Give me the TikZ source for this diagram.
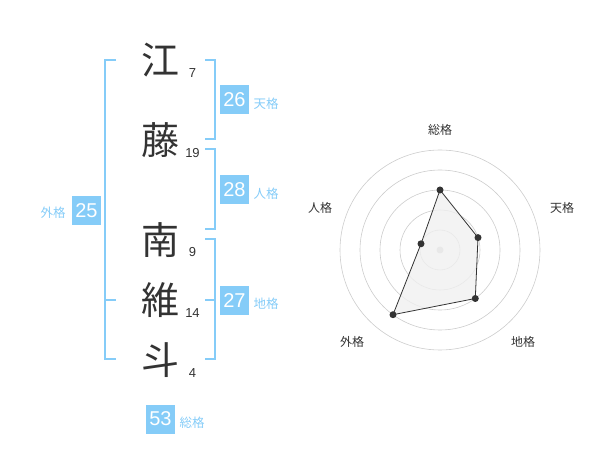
\documentclass[tikz,border=0pt]{standalone}
\usepackage{fontspec}
\setmainfont{Liberation Sans}
\newfontfamily\jp{Noto Sans CJK JP}
\definecolor{kakublue}{HTML}{85CCF8}
\definecolor{ink}{HTML}{333333}
\definecolor{ringgray}{HTML}{CCCCCC}
\definecolor{areagray}{HTML}{F0F0F0}
\tikzset{
    every node/.style={align=center,inner sep=0pt,},
    kanji/.style={font=\jp\fontsize{38}{38}\selectfont,text=ink,},
    strokes/.style={font=\fontsize{13}{13}\selectfont,text=ink,},
    kakubox/.style={fill=kakublue,minimum size=29pt,text=white,font=\fontsize{20}{20}\selectfont,},
    kakuname/.style={font=\jp\fontsize{12.5}{12.5}\selectfont,text=kakublue,},
    bracket/.style={draw=kakublue,line width=1.8pt,},
    ring/.style={draw=ringgray,line width=0.6pt,},
    axis/.style={font=\jp\fontsize{12}{12}\selectfont,text=ink,},
    score/.style={circle,fill=ink,minimum size=7pt,},
}

\begin{document}
\begin{tikzpicture}[x=1pt,y=-1pt]
                \useasboundingbox (0, 0) rectangle (600, 470);

                \node[kanji] (sei1) at (160, 60) {江};
                \node[kanji] (sei2) at (160, 140) {藤};
                \node[kanji] (mei1) at (160, 240) {南};
                \node[kanji] (mei2) at (160, 300) {維};
                \node[kanji] (mei3) at (160, 360) {斗};

                \node[strokes] (sei1_n) at (192.5, 73) {7};
                \node[strokes] (sei2_n) at (192.5, 153) {19};
                \node[strokes] (mei1_n) at (192.5, 252) {9};
                \node[strokes] (mei2_n) at (192.5, 313) {14};
                \node[strokes] (mei3_n) at (192.5, 373) {4};

                \draw[bracket] (116, 60) -- (105, 60) -- (105, 359) -- (116, 359);
                \draw[bracket] (105, 300) -- (116, 300);
                \draw[bracket] (205, 60) -- (215, 60) -- (215, 139) -- (205, 139);
                \draw[bracket] (205, 149) -- (215, 149) -- (215, 229) -- (205, 229);
                \draw[bracket] (205, 239) -- (215, 239) -- (215, 359) -- (205, 359);
                \draw[bracket] (205, 300) -- (215, 300);

                \node[kakubox] (tenkaku) at (234.5, 100) {26};
                \node[kakubox] (jinkaku) at (234.5, 190) {28};
                \node[kakubox] (chikaku) at (234.5, 300.5) {27};
                \node[kakubox] (gaikaku) at (86.5, 210.5) {25};
                \node[kakubox] (soukaku) at (160.5, 419) {53};

                \node[kakuname] (tenkaku_name) at (266, 104) {天格};
                \node[kakuname] (jinkaku_name) at (266, 194) {人格};
                \node[kakuname] (chikaku_name) at (266, 304) {地格};
                \node[kakuname] (gaikaku_name) at (53, 213) {外格};
                \node[kakuname] (soukaku_name) at (192, 423) {総格};

                \coordinate (chart) at (440, 250);
                \draw[ring] (chart) circle (20);
                \draw[ring] (chart) circle (40);
                \draw[ring] (chart) circle (60);
                \draw[ring] (chart) circle (80);
                \draw[ring] (chart) circle (100);
                \fill[ringgray] (chart) circle (3.5);

                \node[axis] (soukaku_axis) at (440, 130) {総格};
                \node[axis] (tenkaku_axis) at (562, 208) {天格};
                \node[axis] (chikaku_axis) at (523, 342) {地格};
                \node[axis] (gaikaku_axis) at (352, 342) {外格};
                \node[axis] (jinkaku_axis) at (320, 208) {人格};

                \coordinate (soukaku_pt) at (440, 190);
                \coordinate (tenkaku_pt) at (478, 237.6);
                \coordinate (chikaku_pt) at (475.3, 298.5);
                \coordinate (gaikaku_pt) at (393, 314.7);
                \coordinate (jinkaku_pt) at (421, 243.8);

                \draw[fill=areagray,draw=ink,line width=0.8pt,fill opacity=0.8] (soukaku_pt) -- (tenkaku_pt) -- (chikaku_pt) -- (gaikaku_pt) -- (jinkaku_pt) -- cycle;

                \node[score] (soukaku_dot) at (soukaku_pt) {};
                \node[score] (tenkaku_dot) at (tenkaku_pt) {};
                \node[score] (chikaku_dot) at (chikaku_pt) {};
                \node[score] (gaikaku_dot) at (gaikaku_pt) {};
                \node[score] (jinkaku_dot) at (jinkaku_pt) {};
            \end{tikzpicture}
\end{document}
